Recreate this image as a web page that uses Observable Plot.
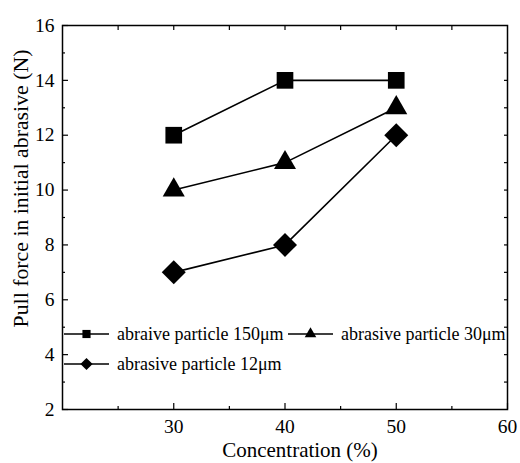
<!DOCTYPE html>
<html>
<head>
<meta charset="utf-8">
<script src="https://cdn.jsdelivr.net/npm/d3@7"></script>
<script src="https://cdn.jsdelivr.net/npm/@observablehq/plot@0.6"></script>
<style>
  html, body { margin: 0; padding: 0; background: #fff; }
  #wrap { position: relative; width: 520px; height: 463px; font-family: "Liberation Serif", "DejaVu Serif", serif; }
  #legend { position: absolute; left: 0; top: 0; width: 520px; height: 463px; pointer-events: none; }
  svg text { font-family: "Liberation Serif", "DejaVu Serif", serif; }
</style>
</head>
<body>
<div id="wrap"></div>
<script>
const concentration = [30, 40, 50];
const series150 = [12, 14, 14];
const series30 = [10, 11, 13];
const series12 = [7, 8, 12];
const seriesNames = ["abraive particle 150\u03bcm", "abrasive particle 30\u03bcm", "abrasive particle 12\u03bcm"];
const seriesSymbols = ["square", "triangle", "diamond2"];
const seriesR = [9.4, 8.2, 10.8];
const xTicks = [30, 40, 50, 60];
const yTicks = [2, 4, 6, 8, 10, 12, 14, 16];

const allSeries = [series150, series30, series12];
const data = [];
allSeries.forEach((vals, i) => vals.forEach((v, j) => data.push({s: seriesNames[i], x: concentration[j], y: v, i})));

const font = '"Liberation Serif", "DejaVu Serif", serif';
const minorX = d3.range(25, 60, 10);
const allX5 = d3.range(25, 60, 5);
const minorY = d3.range(3, 16, 2);
const allY = d3.range(3, 16, 1);

const marks = [
  Plot.frame({strokeWidth: 1.5}),
  Plot.axisX({anchor: "bottom", ticks: xTicks, tickSize: -6, tickPadding: 16, fontSize: 19.5, label: null, strokeWidth: 1.2}),
  Plot.axisX({anchor: "bottom", ticks: minorX, tickSize: -3, text: null, label: null, strokeWidth: 1.2}),
  Plot.axisX({anchor: "top", ticks: allX5, tickSize: -4, text: null, label: null, strokeWidth: 1.2}),
  Plot.axisY({anchor: "left", ticks: yTicks, tickSize: -6, tickPadding: 14, fontSize: 19.5, label: null, strokeWidth: 1.2}),
  Plot.axisY({anchor: "left", ticks: minorY, tickSize: -3, text: null, label: null, strokeWidth: 1.2}),
  Plot.axisY({anchor: "right", ticks: allY, tickSize: -4, text: null, label: null, strokeWidth: 1.2}),
  Plot.line(data, {x: "x", y: "y", z: "s", stroke: "black", strokeWidth: 1.6}),
  ...seriesNames.map((n, i) => Plot.dot(data.filter(d => d.i === i), {x: "x", y: "y", symbol: () => seriesSymbols[i], r: seriesR[i], fill: "black", stroke: "none"})),
  Plot.text(["Concentration (%)"], {frameAnchor: "bottom", text: d => d, textAnchor: "middle", lineAnchor: "middle", dy: 41, dx: 15, fontSize: 21, fill: "black"}),
  Plot.text(["Pull force in initial abrasive (N)"], {frameAnchor: "left", text: d => d, textAnchor: "middle", lineAnchor: "middle", rotate: -90, dx: -41, dy: -29, fontSize: 21.8, fill: "black"})
];

const chart = Plot.plot({
  width: 520,
  height: 463,
  marginLeft: 62,
  marginRight: 13,
  marginTop: 25,
  marginBottom: 54,
  style: {fontFamily: font, color: "black", background: "white"},
  x: {domain: [20, 60]},
  y: {domain: [2, 16]},
  marks
});
document.getElementById("wrap").appendChild(chart);

// legend overlay
const legendItems = [
  {name: seriesNames[0], sym: seriesSymbols[0], lx: 64, row: 334, r: 4.6},
  {name: seriesNames[1], sym: seriesSymbols[1], lx: 288, row: 334, r: 4.3},
  {name: seriesNames[2], sym: seriesSymbols[2], lx: 64, row: 364, r: 5.5}
];
const symMap = {square: d3.symbolSquare, triangle: d3.symbolTriangle, diamond2: d3.symbolDiamond2};
const svg = d3.select("#wrap").append("svg").attr("id", "legend").attr("width", 520).attr("height", 463);
legendItems.forEach(it => {
  const g = svg.append("g").attr("transform", `translate(${it.lx},${it.row})`);
  g.append("line").attr("x1", 0).attr("x2", 45).attr("y1", 0).attr("y2", 0).attr("stroke", "black").attr("stroke-width", 1.6);
  g.append("path").attr("transform", "translate(22.5,0)").attr("d", d3.symbol(symMap[it.sym], Math.PI * it.r * it.r)()).attr("fill", "black");
  g.append("text").attr("x", 53).attr("y", 0).attr("dy", "0.32em").attr("font-size", 18).attr("font-family", font).attr("fill", "black").text(it.name);
});
</script>
</body>
</html>
